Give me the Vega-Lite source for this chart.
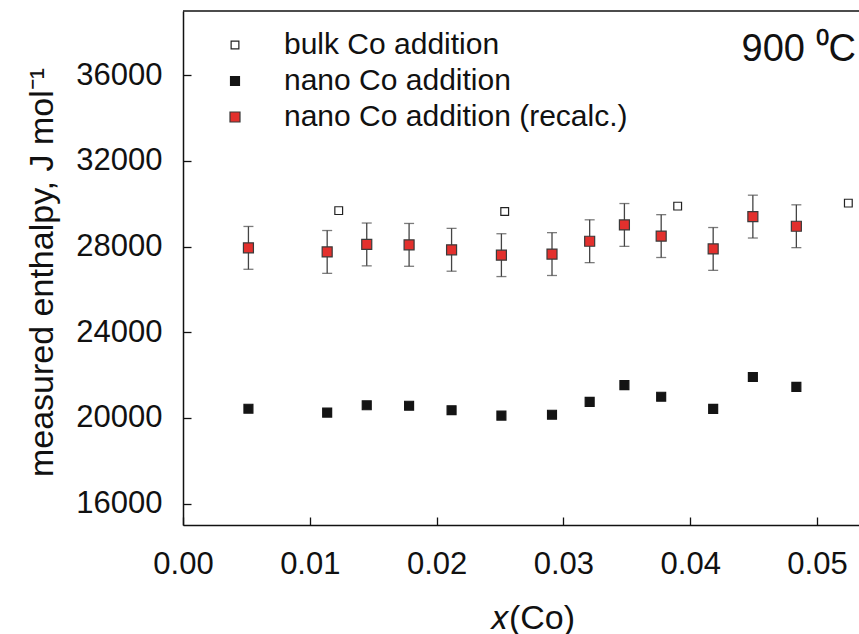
{
  "$schema": "https://vega.github.io/schema/vega-lite/v6.json",
  "width": 676,
  "height": 514,
  "autosize": "none",
  "padding": {"left": 183, "top": 11, "right": 0, "bottom": 109},
  "background": "white",
  "config": {
    "view": {"stroke": null},
    "font": "Liberation Sans",
    "axis": {"grid": false, "domainColor": "#111", "domainWidth": 1.5, "tickColor": "#111", "tickWidth": 1.3, "labelColor": "#111", "titleColor": "#111", "titleFontWeight": "normal", "labelFont": "Liberation Sans", "titleFont": "Liberation Sans"},
    "legend": {"labelLimit": 0}
  },
  "data": {"values": [
    {"x": 0.00516, "y": 20430, "series": "nano Co addition"},
    {"x": 0.01137, "y": 20250, "series": "nano Co addition"},
    {"x": 0.01449, "y": 20590, "series": "nano Co addition"},
    {"x": 0.01783, "y": 20570, "series": "nano Co addition"},
    {"x": 0.02118, "y": 20360, "series": "nano Co addition"},
    {"x": 0.02511, "y": 20110, "series": "nano Co addition"},
    {"x": 0.0291, "y": 20150, "series": "nano Co addition"},
    {"x": 0.03207, "y": 20750, "series": "nano Co addition"},
    {"x": 0.03481, "y": 21530, "series": "nano Co addition"},
    {"x": 0.03771, "y": 20990, "series": "nano Co addition"},
    {"x": 0.04181, "y": 20420, "series": "nano Co addition"},
    {"x": 0.04494, "y": 21910, "series": "nano Co addition"},
    {"x": 0.04837, "y": 21450, "series": "nano Co addition"},
    {"x": 0.00516, "y": 27940, "lo": 26940, "hi": 28940, "series": "nano Co addition (recalc.)"},
    {"x": 0.01137, "y": 27750, "lo": 26750, "hi": 28750, "series": "nano Co addition (recalc.)"},
    {"x": 0.01449, "y": 28100, "lo": 27100, "hi": 29100, "series": "nano Co addition (recalc.)"},
    {"x": 0.01783, "y": 28080, "lo": 27080, "hi": 29080, "series": "nano Co addition (recalc.)"},
    {"x": 0.02118, "y": 27850, "lo": 26850, "hi": 28850, "series": "nano Co addition (recalc.)"},
    {"x": 0.02511, "y": 27600, "lo": 26600, "hi": 28600, "series": "nano Co addition (recalc.)"},
    {"x": 0.0291, "y": 27650, "lo": 26650, "hi": 28650, "series": "nano Co addition (recalc.)"},
    {"x": 0.03207, "y": 28250, "lo": 27250, "hi": 29250, "series": "nano Co addition (recalc.)"},
    {"x": 0.03481, "y": 29010, "lo": 28010, "hi": 30010, "series": "nano Co addition (recalc.)"},
    {"x": 0.03771, "y": 28490, "lo": 27490, "hi": 29490, "series": "nano Co addition (recalc.)"},
    {"x": 0.04181, "y": 27890, "lo": 26890, "hi": 28890, "series": "nano Co addition (recalc.)"},
    {"x": 0.04494, "y": 29400, "lo": 28400, "hi": 30400, "series": "nano Co addition (recalc.)"},
    {"x": 0.04837, "y": 28950, "lo": 27950, "hi": 29950, "series": "nano Co addition (recalc.)"},
    {"x": 0.01228, "y": 29680, "series": "bulk Co addition"},
    {"x": 0.02537, "y": 29640, "series": "bulk Co addition"},
    {"x": 0.03901, "y": 29890, "series": "bulk Co addition"},
    {"x": 0.05247, "y": 30030, "series": "bulk Co addition"}
  ]},
  "encoding": {
    "x": {"field": "x", "type": "quantitative",
      "scale": {"domain": [0, 0.05331], "nice": false, "zero": false},
      "axis": {"values": [0, 0.01, 0.02, 0.03, 0.04, 0.05], "format": ".2f", "labelFontSize": 31, "tickSize": -8, "labelPadding": 32, "labelFlush": false, "labelOverlap": false,
        "title": "𝑥(Co)", "titleFontSize": 34, "titleX": 349, "titleY": 103, "titleBaseline": "alphabetic", "titleAlign": "center", "titleAnchor": null}}
  },
  "layer": [
    {
      "data": {"values": [{"top": 39000}]},
      "mark": {"type": "rule", "color": "#111", "strokeWidth": 1.5},
      "encoding": {"y": {"field": "top", "type": "quantitative"}, "x": null}
    },
    {
      "transform": [{"filter": "datum.series === 'nano Co addition (recalc.)'"}],
      "mark": {"type": "rule", "color": "#444", "strokeWidth": 1.3},
      "encoding": {"y": {"field": "lo", "type": "quantitative"}, "y2": {"field": "hi"}}
    },
    {
      "transform": [{"filter": "datum.series === 'nano Co addition (recalc.)'"}],
      "mark": {"type": "tick", "orient": "horizontal", "size": 10, "thickness": 1.3, "color": "#444"},
      "encoding": {"y": {"field": "hi", "type": "quantitative"}}
    },
    {
      "transform": [{"filter": "datum.series === 'nano Co addition (recalc.)'"}],
      "mark": {"type": "tick", "orient": "horizontal", "size": 10, "thickness": 1.3, "color": "#444"},
      "encoding": {"y": {"field": "lo", "type": "quantitative"}}
    },
    {
      "mark": {"type": "point", "shape": "square", "filled": true, "opacity": 1, "strokeWidth": 1.2},
      "encoding": {
        "y": {"field": "y", "type": "quantitative",
          "scale": {"domain": [15000, 39000], "nice": false, "zero": false},
          "axis": {"values": [16000, 20000, 24000, 28000, 32000, 36000], "format": "d", "labelFontSize": 31, "tickSize": -8, "labelPadding": 29,
            "title": "measured enthalpy, J mol⁻¹", "titleFontSize": 34, "titleAngle": -90, "titleX": -131, "titleY": 261, "titleBaseline": "alphabetic", "titleAlign": "center", "titleAnchor": null}},
        "fill": {"field": "series", "type": "nominal",
          "scale": {"domain": ["bulk Co addition", "nano Co addition", "nano Co addition (recalc.)"], "range": ["#ffffff", "#141414", "#e3302d"]},
          "legend": {"title": null, "orient": "none", "legendX": 37, "legendY": 19, "symbolType": "square", "labelFontSize": 30, "labelFont": "Liberation Sans", "labelColor": "#111", "labelOffset": 34, "rowPadding": 6, "symbolStrokeWidth": 1.2, "symbolOpacity": 1, "labelLimit": 0}},
        "stroke": {"field": "series", "type": "nominal",
          "scale": {"domain": ["bulk Co addition", "nano Co addition", "nano Co addition (recalc.)"], "range": ["#222222", "#141414", "#3a3a3a"]},
          "legend": {"title": null, "orient": "none", "legendX": 37, "legendY": 19, "symbolType": "square", "labelFontSize": 30, "labelFont": "Liberation Sans", "labelColor": "#111", "labelOffset": 34, "rowPadding": 6, "symbolStrokeWidth": 1.2, "symbolOpacity": 1, "labelLimit": 0}},
        "size": {"field": "series", "type": "nominal",
          "scale": {"domain": ["bulk Co addition", "nano Co addition", "nano Co addition (recalc.)"], "range": [60, 100, 100]},
          "legend": {"title": null, "orient": "none", "legendX": 37, "legendY": 19, "symbolType": "square", "labelFontSize": 30, "labelFont": "Liberation Sans", "labelColor": "#111", "labelOffset": 34, "rowPadding": 6, "symbolStrokeWidth": 1.2, "symbolOpacity": 1, "labelLimit": 0}}
      }
    },
    {
      "data": {"values": [{"x": 0.04405, "y": 36645, "label": "900 ⁰C"}]},
      "mark": {"type": "text", "fontSize": 38, "font": "Liberation Sans", "align": "left", "baseline": "alphabetic", "color": "#111"},
      "encoding": {"x": {"field": "x", "type": "quantitative"}, "y": {"field": "y", "type": "quantitative"}, "text": {"field": "label"}}
    }
  ]
}
